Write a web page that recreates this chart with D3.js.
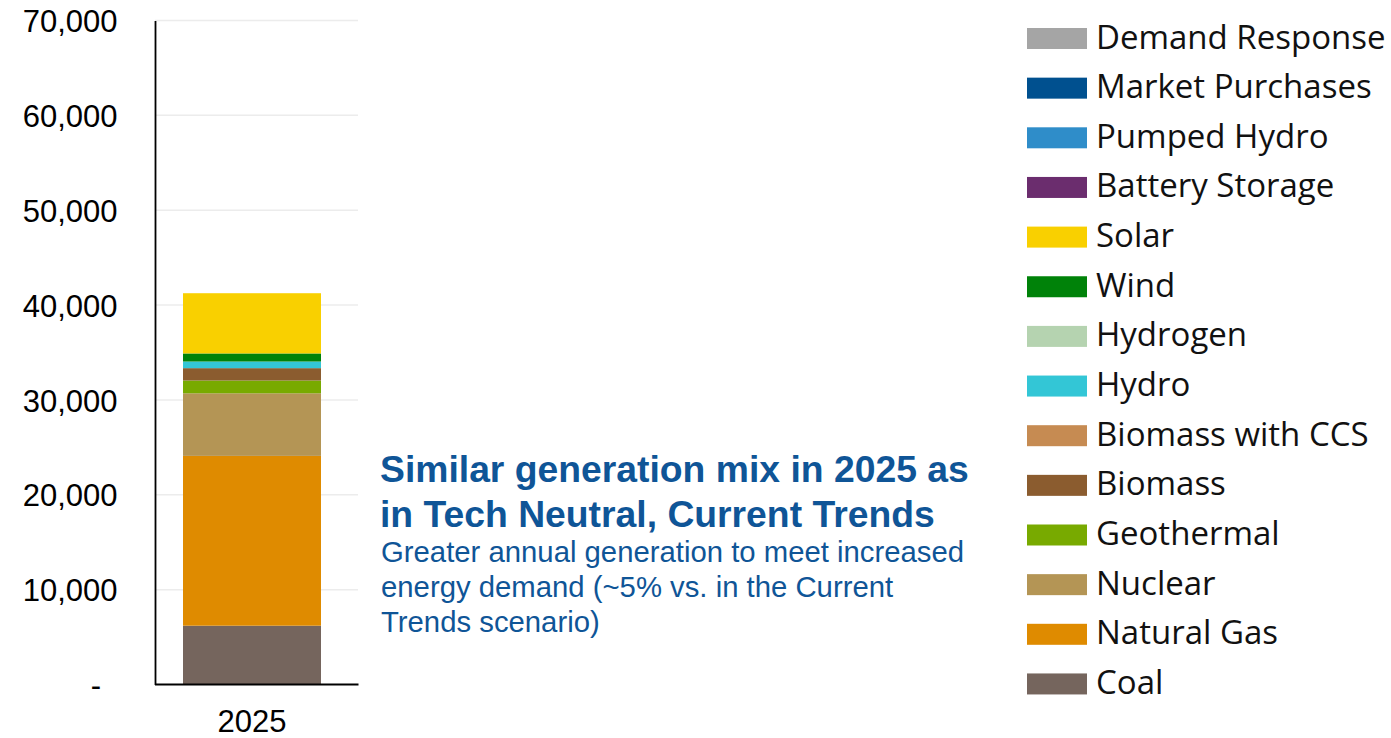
<!DOCTYPE html>
<html>
<head>
<meta charset="utf-8">
<script src="https://cdn.jsdelivr.net/npm/d3@7"></script>
<style>
  html, body { margin: 0; padding: 0; background: #fff; }
  svg { display: block; }
</style>
</head>
<body>
<svg id="chart" width="1391" height="738"></svg>
<script>
// Generation mix by resource, stacked bottom-up (GWh)
const years = ["2025"];
const resources = [
  "Coal", "Natural Gas", "Nuclear", "Geothermal", "Biomass",
  "Biomass with CCS", "Hydro", "Hydrogen", "Wind", "Solar",
  "Battery Storage", "Pumped Hydro", "Market Purchases", "Demand Response"
];
const resourceColors = [
  "#75655d", "#df8b00", "#b49555", "#78aa00", "#8b5c2f",
  "#c68b52", "#33c6d6", "#b5d3b0", "#008209", "#f9d000",
  "#6b2d6e", "#2f8dc9", "#00508f", "#a5a5a5"
];
const generation2025 = [6200, 17900, 6600, 1350, 1300, 0, 700, 0, 850, 6350, 0, 0, 0, 0];
const yTicks = [0, 10000, 20000, 30000, 40000, 50000, 60000, 70000];

const titleLines = ["Similar generation mix in 2025 as", "in Tech Neutral, Current Trends"];
const noteLines = [
  "Greater annual generation to meet increased",
  "energy demand (~5% vs. in the Current",
  "Trends scenario)"
];

const svg = d3.select("#chart");
const rows = years.map((yr, i) => {
  const r = { year: yr };
  resources.forEach((k, j) => { r[k] = generation2025[j]; });
  return r;
});

const x = d3.scaleBand()
  .domain(years)
  .range([155, 349])
  .paddingInner(0.2887)
  .paddingOuter(0.1443);

const y = d3.scaleLinear()
  .domain([0, 70000])
  .range([684.5, 20.5]);

const color = d3.scaleOrdinal().domain(resources).range(resourceColors);

// horizontal gridlines
svg.append("g")
  .selectAll("line")
  .data(yTicks.filter(d => d > 0))
  .join("line")
  .attr("x1", 155).attr("x2", 358)
  .attr("y1", d => y(d)).attr("y2", d => y(d))
  .attr("stroke", "#ececec")
  .attr("stroke-width", 1.5);

// stacked bar
const stacked = d3.stack().keys(resources)(rows);
svg.append("g")
  .selectAll("g")
  .data(stacked)
  .join("g")
  .attr("fill", d => color(d.key))
  .selectAll("rect")
  .data(d => d)
  .join("rect")
  .attr("x", d => x(d.data.year))
  .attr("width", x.bandwidth())
  .attr("y", d => y(d[1]))
  .attr("height", d => y(d[0]) - y(d[1]));

// y axis
const yAxis = svg.append("g")
  .attr("transform", "translate(155,0)")
  .call(d3.axisLeft(y)
    .tickValues(yTicks)
    .tickSize(0)
    .tickPadding(37.5)
    .tickFormat(d => d === 0 ? "-" : d3.format(",")(d)));
yAxis.select(".domain").attr("stroke", "#000").attr("stroke-width", 1.8);
yAxis.selectAll("text")
  .attr("font-family", "Liberation Sans, Arial, sans-serif")
  .attr("font-size", 31)
  .attr("fill", "#000")
  .attr("dy", "0.36em");
yAxis.selectAll(".tick")
  .filter(d => d === 0)
  .select("text")
  .attr("x", -54);

// x axis
const xAxis = svg.append("g")
  .attr("transform", "translate(0,684.5)")
  .call(d3.axisBottom(x).tickSize(0).tickPadding(25.5));
xAxis.select(".domain").remove();
xAxis.append("line")
  .attr("x1", 155).attr("x2", 358.5)
  .attr("stroke", "#000").attr("stroke-width", 1.8);
xAxis.selectAll("text")
  .attr("font-family", "Liberation Sans, Arial, sans-serif")
  .attr("font-size", 31)
  .attr("fill", "#000");

// annotation
const note = svg.append("g")
  .attr("fill", "#0f5597")
  .attr("font-family", "Liberation Sans, Arial, sans-serif");
note.selectAll("text.title")
  .data(titleLines)
  .join("text")
  .attr("class", "title")
  .attr("x", 380)
  .attr("y", (d, i) => 482 + i * 45)
  .attr("font-size", 37.3)
  .attr("font-weight", "bold")
  .text(d => d);
note.selectAll("text.sub")
  .data(noteLines)
  .join("text")
  .attr("class", "sub")
  .attr("x", 381)
  .attr("y", (d, i) => 562 + i * 35)
  .attr("font-size", 29.3)
  .text(d => d);

// legend, top entry is the last stacked series
const legendKeys = resources.slice().reverse();
const legend = svg.append("g");
const item = legend.selectAll("g")
  .data(legendKeys)
  .join("g")
  .attr("transform", (d, i) => `translate(1027,${38.5 + i * 49.65})`);
item.append("rect")
  .attr("x", 0).attr("y", -10.5)
  .attr("width", 60).attr("height", 21)
  .attr("fill", d => color(d));
item.append("text")
  .attr("x", 69)
  .attr("y", 10)
  .attr("font-family", "Open Sans, sans-serif")
  .attr("font-size", 33)
  .attr("fill", "#111")
  .text(d => d);
</script>
</body>
</html>
